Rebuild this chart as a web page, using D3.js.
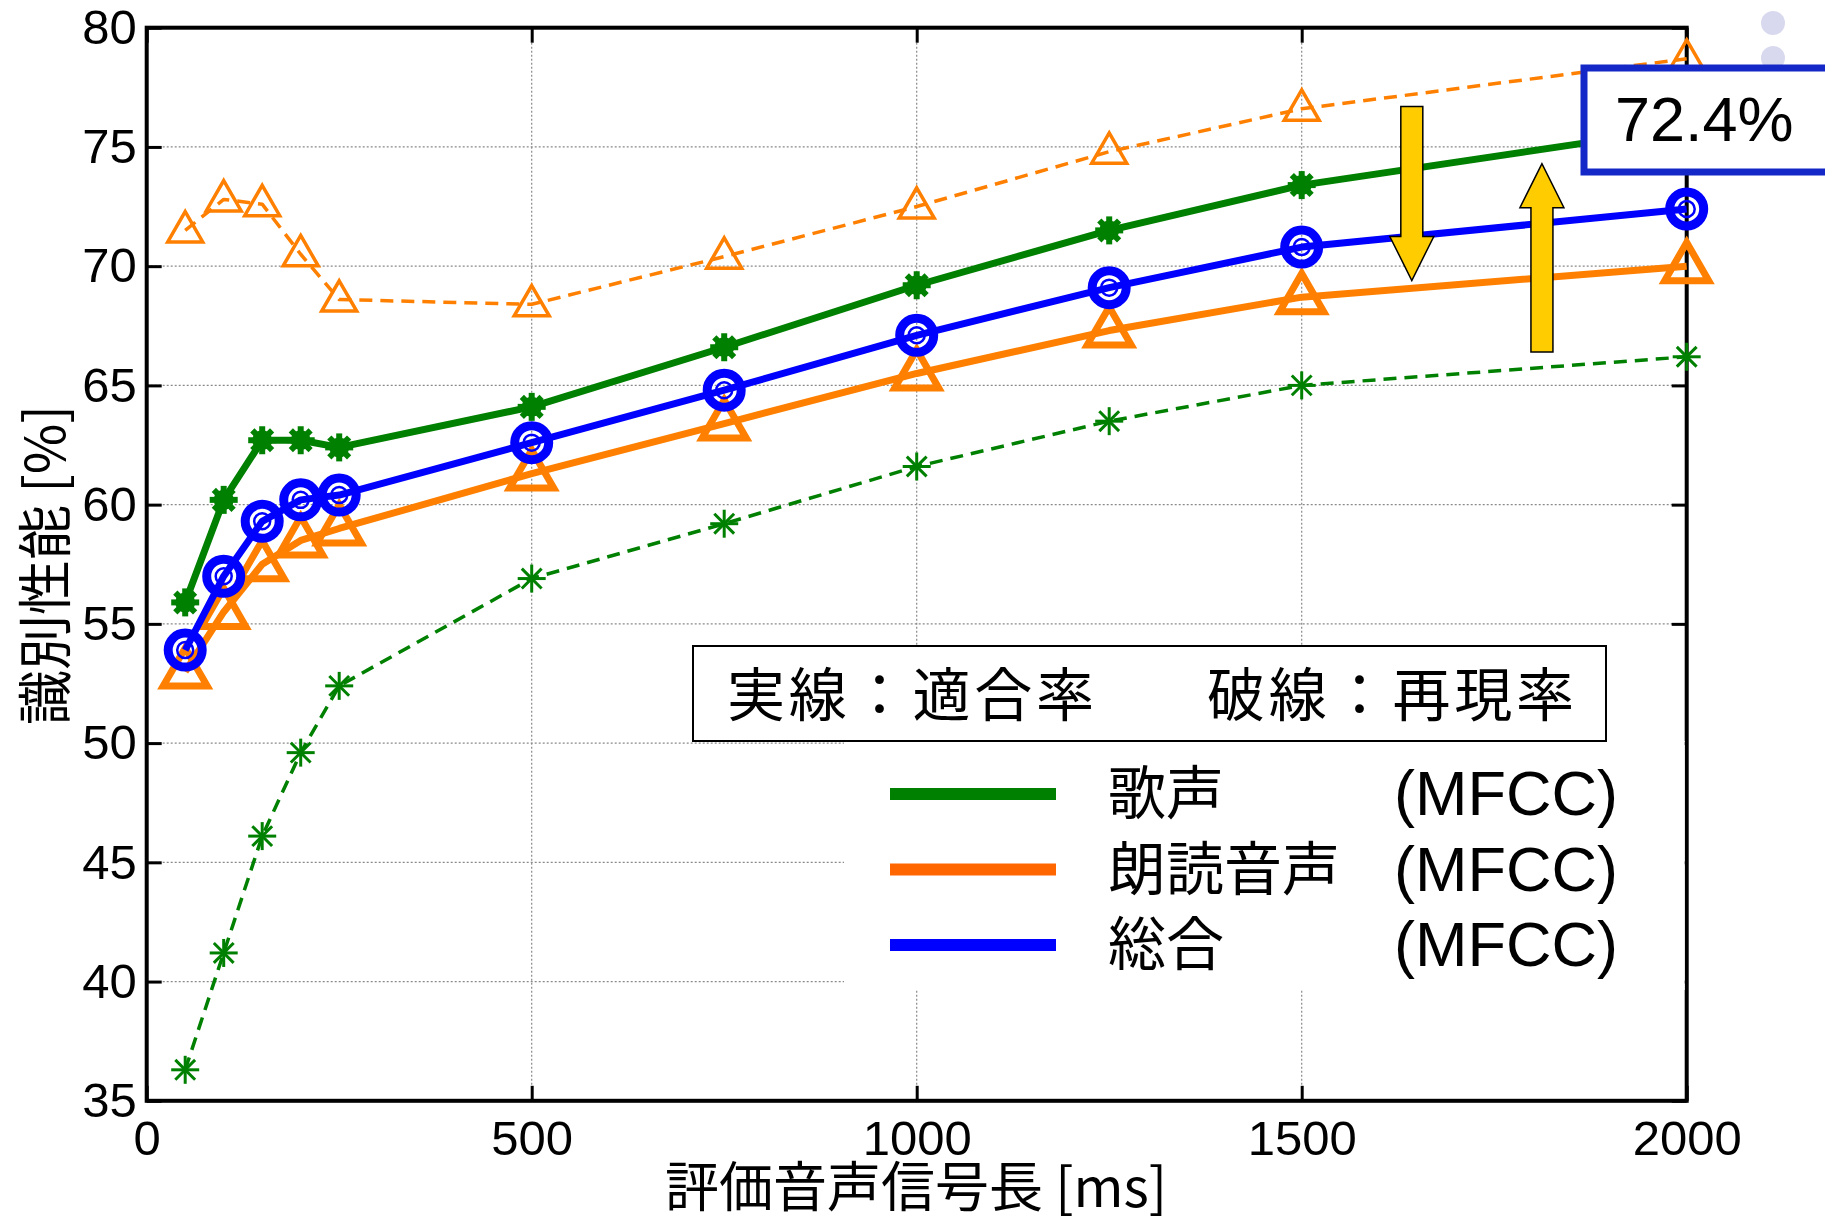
<!DOCTYPE html>
<html>
<head>
<meta charset="utf-8">
<script src="https://cdn.jsdelivr.net/npm/d3@7"></script>
<style>
  html, body { margin: 0; padding: 0; background: #fff; }
  svg { display: block; }
  .tick text { font-family: "Liberation Sans", Arial, sans-serif; font-size: 49px; fill: #000; }
  .jp { font-family: "Noto Sans CJK JP", sans-serif; }
  .lat { font-family: "Liberation Sans", Arial, sans-serif; }
</style>
</head>
<body>
<div id="chart"></div>
<script>
// evaluation signal length [ms]
const durations = [50, 100, 150, 200, 250, 500, 750, 1000, 1250, 1500, 2000];

// solid lines: precision (適合率)
const singPrecision   = [55.9, 60.2, 62.7, 62.7, 62.4, 64.1, 66.6, 69.2, 71.5, 73.4, 75.8];
const speechPrecision = [53.0, 55.5, 57.5, 58.5, 59.0, 61.3, 63.4, 65.5, 67.3, 68.7, 70.0];
const totalPrecision  = [53.9, 57.0, 59.3, 60.2, 60.4, 62.6, 64.8, 67.1, 69.1, 70.8, 72.4];

// dashed lines: recall (再現率)
const singRecall   = [36.3, 41.2, 46.1, 49.6, 52.4, 56.9, 59.2, 61.6, 63.5, 65.0, 66.2];
const speechRecall = [71.5, 72.8, 72.6, 70.5, 68.6, 68.4, 70.4, 72.5, 74.8, 76.6, 78.7];

const xTicks = [0, 500, 1000, 1500, 2000];
const yTicks = [35, 40, 45, 50, 55, 60, 65, 70, 75, 80];

const legendNames = ['歌声', '朗読音声', '総合'];
const legendColors = ['#008000', '#ff6600', '#0000ff'];

const W = 1825, H = 1223;
const GREEN = '#008000', ORANGE = '#ff8000', BLUE = '#0000ff';

const x = d3.scaleLinear().domain([0, 2000]).range([146.7, 1686.7]);
const y = d3.scaleLinear().domain([35, 80]).range([1100.8, 27.7]);

const svg = d3.select('#chart').append('svg')
  .attr('width', W).attr('height', H);

// grid
const grid = svg.append('g').attr('stroke', '#8a8a8a').attr('stroke-width', 1.2)
  .attr('stroke-dasharray', '2,2');
grid.selectAll('.gx').data(xTicks.slice(1, -1)).join('line')
  .attr('x1', d => x(d)).attr('x2', d => x(d))
  .attr('y1', y(35)).attr('y2', y(80));
grid.selectAll('.gy').data(yTicks.slice(1, -1)).join('line')
  .attr('x1', x(0)).attr('x2', x(2000))
  .attr('y1', d => y(d)).attr('y2', d => y(d));

// axes (inward ticks, box)
const tick = 15;
svg.append('g').attr('transform', `translate(0,${y(35)})`)
  .call(d3.axisBottom(x).tickValues(xTicks).tickFormat(d3.format('d'))
    .tickSize(-tick).tickSizeOuter(0).tickPadding(19))
  .call(ax => ax.select('.domain').remove());
svg.append('g').attr('transform', `translate(0,${y(80)})`)
  .call(d3.axisTop(x).tickValues(xTicks).tickSize(-tick).tickSizeOuter(0).tickFormat(''))
  .call(ax => ax.select('.domain').remove());
svg.append('g').attr('transform', `translate(${x(0)},0)`)
  .call(d3.axisLeft(y).tickValues(yTicks).tickSize(-tick).tickSizeOuter(0).tickPadding(10))
  .call(ax => ax.select('.domain').remove());
svg.append('g').attr('transform', `translate(${x(2000)},0)`)
  .call(d3.axisRight(y).tickValues(yTicks).tickSize(-tick).tickSizeOuter(0).tickFormat(''))
  .call(ax => ax.select('.domain').remove());
svg.selectAll('.tick line').attr('stroke', '#000').attr('stroke-width', 3);

svg.append('rect')
  .attr('x', x(0)).attr('y', y(80))
  .attr('width', x(2000) - x(0)).attr('height', y(35) - y(80))
  .attr('fill', 'none').attr('stroke', '#000').attr('stroke-width', 4);

// axis labels
svg.append('text').attr('class', 'jp')
  .attr('x', 916).attr('y', 1207).attr('text-anchor', 'middle')
  .attr('font-size', 54).text('評価音声信号長 [ms]');
svg.append('text').attr('class', 'jp')
  .attr('transform', 'translate(65,565) rotate(-90)').attr('text-anchor', 'middle')
  .attr('font-size', 55).text('識別性能 [%]');

// series
const line = d3.line().x(d => x(d[0])).y(d => y(d[1]));
const pts = vals => durations.map((d, i) => [d, vals[i]]);

function triPath(s) {
  const h = s * 0.866;
  return `M0,${-h * 0.62}L${s / 2},${h * 0.38}L${-s / 2},${h * 0.38}Z`;
}

function drawSeries(vals, color, width, dash, marker) {
  const g = svg.append('g');
  g.append('path').datum(pts(vals))
    .attr('d', line).attr('fill', 'none')
    .attr('stroke', color).attr('stroke-width', width)
    .attr('stroke-dasharray', dash || null)
    .attr('stroke-linejoin', 'round');
  const m = g.selectAll('g.m').data(pts(vals)).join('g')
    .attr('transform', d => `translate(${x(d[0])},${y(d[1])})`);
  marker(m, color);
}

function asterisk(sel, color, r, sw) {
  [0, 45, 90, 135].forEach(a => {
    const rad = a * Math.PI / 180;
    sel.append('line')
      .attr('x1', -r * Math.cos(rad)).attr('y1', -r * Math.sin(rad))
      .attr('x2', r * Math.cos(rad)).attr('y2', r * Math.sin(rad))
      .attr('stroke', color).attr('stroke-width', sw);
  });
}

drawSeries(singRecall, GREEN, 3.5, '13,8', (m, c) => asterisk(m, c, 14, 3));
drawSeries(speechRecall, ORANGE, 3.5, '13,8', (m, c) => {
  m.append('path').attr('d', triPath(35)).attr('fill', 'none')
    .attr('stroke', c).attr('stroke-width', 3.5);
});
drawSeries(singPrecision, GREEN, 7, null, (m, c) => {
  asterisk(m, c, 14, 6);
  m.append('circle').attr('r', 10).attr('fill', c);
});
drawSeries(speechPrecision, ORANGE, 7, null, (m, c) => {
  m.append('path').attr('d', triPath(44)).attr('fill', 'none')
    .attr('stroke', c).attr('stroke-width', 7).attr('stroke-linejoin', 'miter');
});
drawSeries(totalPrecision, BLUE, 7, null, (m, c) => {
  m.append('circle').attr('r', 17).attr('fill', 'none')
    .attr('stroke', c).attr('stroke-width', 9);
  m.append('circle').attr('r', 8).attr('fill', 'none').attr('stroke', c).attr('stroke-width', 2.5);
});

// legend background
svg.append('rect').attr('x', 844).attr('y', 741)
  .attr('width', x(2000) - 844 - 2).attr('height', 249).attr('fill', '#fff');
svg.append('rect').attr('x', 693).attr('y', 646)
  .attr('width', 913).attr('height', 95)
  .attr('fill', '#fff').attr('stroke', '#000').attr('stroke-width', 2);
svg.append('text').attr('class', 'jp').attr('font-size', 58)
  .attr('x', 727).attr('y', 716).attr('textLength', 367).text('実線：適合率');
svg.append('text').attr('class', 'jp').attr('font-size', 58)
  .attr('x', 1207).attr('y', 716).attr('textLength', 367).text('破線：再現率');

const rows = svg.append('g').selectAll('g').data(legendNames).join('g')
  .attr('transform', (d, i) => `translate(0,${794 + i * 75.5})`);
rows.append('line').attr('x1', 890).attr('x2', 1056)
  .attr('stroke', (d, i) => legendColors[i]).attr('stroke-width', 12);
rows.append('text').attr('class', 'jp').attr('font-size', 58)
  .attr('x', 1108).attr('y', 20).text(d => d);
rows.append('text').attr('class', 'lat').attr('font-size', 63)
  .attr('x', 1394).attr('y', 21).text('(MFCC)');

// arrows (data coords)
const arrows = [
  { x: 1643, from: 76.7, to: 69.4 },
  { x: 1812, from: 66.4, to: 74.3 }
];
arrows.forEach(a => {
  const cx = x(a.x), y0 = y(a.from), y1 = y(a.to);
  const dir = y1 > y0 ? 1 : -1;
  const hw = 11, hh = 22, hl = 44;
  const yb = y1 - dir * hl;
  const p = [[cx - hw, y0], [cx + hw, y0], [cx + hw, yb], [cx + hh, yb], [cx, y1],
             [cx - hh, yb], [cx - hw, yb]];
  svg.append('path').attr('d', 'M' + p.join('L') + 'Z')
    .attr('fill', '#ffcc00').attr('stroke', '#000').attr('stroke-width', 1.5);
});

// decorative dots
svg.selectAll('.dot').data([23, 58]).join('circle')
  .attr('cx', 1773).attr('cy', d => d).attr('r', 12).attr('fill', '#d8d9ee');

// value callout
svg.append('rect').attr('x', 1584).attr('y', 68)
  .attr('width', 245).attr('height', 104)
  .attr('fill', '#fff').attr('stroke', '#1428c8').attr('stroke-width', 7);
svg.append('text').attr('class', 'lat').attr('font-size', 63)
  .attr('x', 1615).attr('y', 141).text(totalPrecision[totalPrecision.length - 1] + '%');
</script>
</body>
</html>
